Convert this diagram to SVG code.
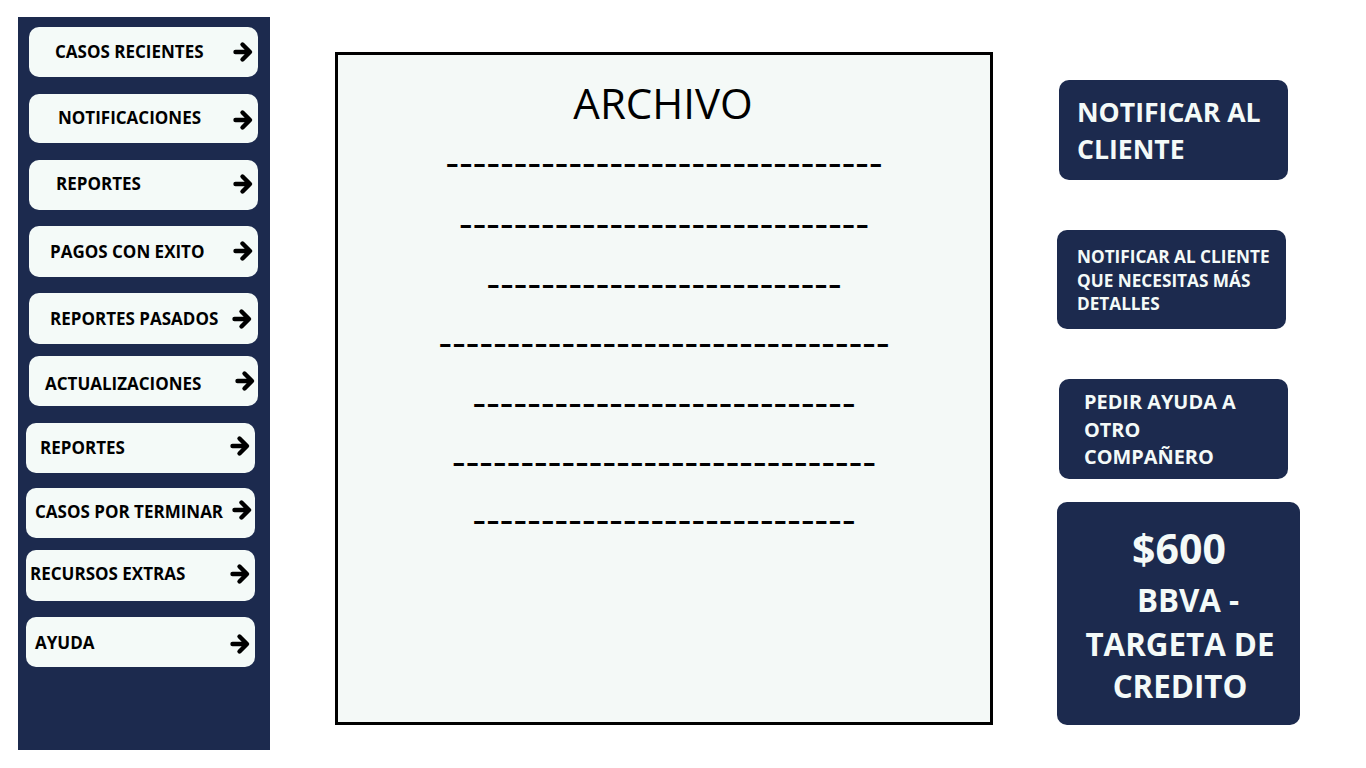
<svg xmlns="http://www.w3.org/2000/svg" width="1366" height="768" viewBox="0 0 1366 768">
<style>
.nav{fill:#1c2a4e}
.btn{fill:#f4faf8}
.bt{font-family:"Open Sans","Liberation Sans",sans-serif;font-weight:700;font-size:17px;fill:#000}
.arr{fill:none;stroke:#000;stroke-width:4.4;stroke-linecap:round;stroke-linejoin:round}
.wt{font-family:"Open Sans","Liberation Sans",sans-serif;font-weight:700;fill:#f4faf8}
.dash{font-family:"Open Sans","Liberation Sans",sans-serif;font-size:42px;fill:#000;text-anchor:middle}
</style>
<defs>
<path id="ar" class="arr" d="M-7.5,0 H6.5 M-0.5,-7.5 L7,0 L-0.5,7.5"/>
</defs>
<rect width="1366" height="768" fill="#ffffff"/>
<rect id="sidebar" class="nav" x="18" y="17" width="252" height="733"/>

<g id="n1"><rect class="btn" x="29" y="27" width="229" height="50" rx="10"/><text class="bt" x="55" y="58">CASOS RECIENTES</text><use href="#ar" x="243" y="52"/></g>
<g id="n2"><rect class="btn" x="29" y="94" width="229" height="49" rx="10"/><text class="bt" x="58" y="124">NOTIFICACIONES</text><use href="#ar" x="243" y="120"/></g>
<g id="n3"><rect class="btn" x="29" y="160" width="229" height="50" rx="10"/><text class="bt" x="56" y="190">REPORTES</text><use href="#ar" x="243" y="184"/></g>
<g id="n4"><rect class="btn" x="29" y="226" width="229" height="51" rx="10"/><text class="bt" x="50" y="258">PAGOS CON EXITO</text><use href="#ar" x="243" y="251"/></g>
<g id="n5"><rect class="btn" x="29" y="293" width="229" height="51" rx="10"/><text class="bt" x="50" y="325">REPORTES PASADOS</text><use href="#ar" x="242" y="319"/></g>
<g id="n6"><rect class="btn" x="29" y="356" width="229" height="50" rx="10"/><text class="bt" x="45" y="390">ACTUALIZACIONES</text><use href="#ar" x="245" y="381"/></g>
<g id="n7"><rect class="btn" x="26" y="423" width="229" height="50" rx="10"/><text class="bt" x="40" y="454">REPORTES</text><use href="#ar" x="240" y="446"/></g>
<g id="n8"><rect class="btn" x="26" y="488" width="229" height="50" rx="10"/><text class="bt" x="35" y="518">CASOS POR TERMINAR</text><use href="#ar" x="242" y="510"/></g>
<g id="n9"><rect class="btn" x="26" y="550" width="229" height="51" rx="10"/><text class="bt" x="30" y="580">RECURSOS EXTRAS</text><use href="#ar" x="240" y="574"/></g>
<g id="n10"><rect class="btn" x="26" y="617" width="229" height="50" rx="10"/><text class="bt" x="35" y="649">AYUDA</text><use href="#ar" x="240" y="644"/></g>

<g id="archivo">
<rect x="336.5" y="53.5" width="655" height="670" fill="#f4f9f7" stroke="#000" stroke-width="3"/>
<text x="663" y="119" font-family="Open Sans, Liberation Sans, sans-serif" font-size="42" text-anchor="middle" fill="#000">ARCHIVO</text>
<text class="dash" x="664" y="177" textLength="437" lengthAdjust="spacing">--------------------------------</text>
<text class="dash" x="664" y="238" textLength="410" lengthAdjust="spacing">------------------------------</text>
<text class="dash" x="664" y="298" textLength="355" lengthAdjust="spacing">--------------------------</text>
<text class="dash" x="664" y="357" textLength="451" lengthAdjust="spacing">---------------------------------</text>
<text class="dash" x="664" y="417" textLength="383" lengthAdjust="spacing">----------------------------</text>
<text class="dash" x="664" y="476" textLength="424" lengthAdjust="spacing">-------------------------------</text>
<text class="dash" x="664" y="534" textLength="383" lengthAdjust="spacing">----------------------------</text>
</g>

<g id="r1"><rect class="nav" x="1059" y="80" width="229" height="100" rx="10"/>
<text class="wt" font-size="26.6" x="1077" y="122">NOTIFICAR AL</text>
<text class="wt" font-size="26.6" x="1077" y="159">CLIENTE</text></g>
<g id="r2"><rect class="nav" x="1057" y="230" width="229" height="99" rx="10"/>
<text class="wt" font-size="17.2" x="1077" y="263">NOTIFICAR AL CLIENTE</text>
<text class="wt" font-size="17.2" x="1077" y="287">QUE NECESITAS MÁS</text>
<text class="wt" font-size="17.2" x="1077" y="310">DETALLES</text></g>
<g id="r3"><rect class="nav" x="1059" y="379" width="229" height="100" rx="10"/>
<text class="wt" font-size="19.9" x="1084" y="409">PEDIR AYUDA A</text>
<text class="wt" font-size="19.9" x="1084" y="437">OTRO</text>
<text class="wt" font-size="19.9" x="1084" y="464">COMPAÑERO</text></g>
<g id="r4"><rect class="nav" x="1057" y="502" width="243" height="223" rx="10"/>
<text class="wt" font-size="41" x="1179" y="564" text-anchor="middle">$600</text>
<text class="wt" font-size="31.3" x="1188" y="612" text-anchor="middle">BBVA -</text>
<text class="wt" font-size="31.3" x="1180" y="656" text-anchor="middle">TARGETA DE</text>
<text class="wt" font-size="31.3" x="1180" y="698" text-anchor="middle">CREDITO</text></g>
</svg>
